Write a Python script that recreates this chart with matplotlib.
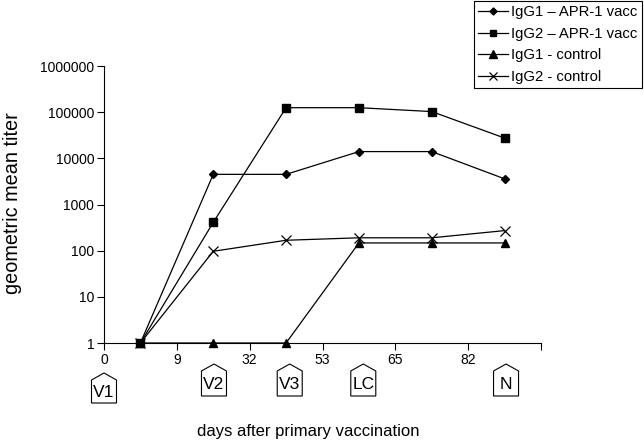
import matplotlib
matplotlib.use("Agg")
import matplotlib.pyplot as plt
from matplotlib.patches import Polygon

plt.rcParams['font.family'] = ['Liberation Sans', 'DejaVu Sans']

# data
dayLabels = ['0', '9', '32', '53', '65', '82']
igg1Vacc = [1, 4500, 4500, 14000, 14000, 3600]
igg2Vacc = [1, 410, 125000, 125000, 103000, 27500]
igg1Ctrl = [1, 1, 1, 147, 147, 147]
igg2Ctrl = [1, 97, 168, 190, 190, 272]
eventLabels = ['V1', 'V2', 'V3', 'LC', 'N']
eventPos = [-0.5, 1.01, 2.05, 3.06, 5.02]


def DrawEventBox(fig, ax, pos, label, topPx, bottomPx):
    W, H = fig.bbox.width, fig.bbox.height
    xc = ax.transData.transform((pos, 1))[0]
    half = 12.5
    shoulder = topPx + 7
    pts = [(xc - half, bottomPx), (xc + half, bottomPx), (xc + half, shoulder),
           (xc, topPx), (xc - half, shoulder)]
    pts = [(x / W, 1 - y / H) for x, y in pts]
    fig.add_artist(Polygon(pts, closed=True, facecolor='white', edgecolor='black',
                           linewidth=0.8, transform=fig.transFigure))
    fig.text(xc / W, 1 - ((shoulder + bottomPx) / 2 + 1) / H, label,
             ha='center', va='center', fontsize=12.5)


def main():
    fig = plt.figure(figsize=(6.44, 4.48), dpi=100)
    ax = fig.add_axes([104 / 644, 1 - 343 / 448, (541 - 104) / 644, (343 - 66) / 448])

    xs = list(range(len(dayLabels)))
    lineStyle = dict(color='black', linewidth=0.9, clip_on=False, zorder=3)
    ax.plot(xs, igg1Vacc, marker='D', markersize=4.2, label='IgG1 \u2013 APR-1 vacc', **lineStyle)
    ax.plot(xs, igg2Vacc, marker='s', markersize=5.3, label='IgG2 \u2013 APR-1 vacc', **lineStyle)
    ax.plot(xs, igg1Ctrl, marker='^', markersize=6.2, label='IgG1 - control', **lineStyle)
    ax.plot(xs, igg2Ctrl, marker='x', markersize=7.2, markeredgewidth=0.9,
            label='IgG2 - control', **lineStyle)

    ax.set_yscale('log')
    ax.set_ylim(1, 1000000)
    ax.set_yticks([1, 10, 100, 1000, 10000, 100000, 1000000])
    ax.set_yticklabels(['1', '10', '100', '1000', '10000', '100000', '1000000'])
    ax.yaxis.set_minor_locator(matplotlib.ticker.NullLocator())

    ax.set_xlim(-0.5, len(dayLabels) - 0.5)
    ax.set_xticks([i - 0.5 for i in range(len(dayLabels) + 1)])
    ax.set_xticklabels(dayLabels + [''])

    ax.spines['top'].set_visible(False)
    ax.spines['right'].set_visible(False)
    for s in ['left', 'bottom']:
        ax.spines[s].set_linewidth(0.8)
    ax.tick_params(direction='out', length=5, width=0.8, labelsize=10, pad=2)

    fig.text(13 / 644, 1 - 203 / 448, 'geometric mean titer', rotation=90,
             ha='center', va='center', fontsize=14.3)
    fig.text(308 / 644, 1 - 431 / 448, 'days after primary vaccination',
             ha='center', va='center', fontsize=12)

    leg = fig.legend(loc='upper right', bbox_to_anchor=(642 / 644, 1 - 1 / 448), fontsize=10.7,
                     frameon=True, fancybox=False, edgecolor='black', framealpha=1,
                     borderpad=0.3, labelspacing=0.5, handlelength=2.0, markerscale=0.85,
                     handletextpad=0.2, borderaxespad=0)
    leg.get_frame().set_linewidth(0.8)

    for pos, label in zip(eventPos, eventLabels):
        if label == 'V1':
            DrawEventBox(fig, ax, pos, label, 373, 403)
        else:
            DrawEventBox(fig, ax, pos, label, 364, 396)

    fig.savefig('out.png', dpi=100)


main()
